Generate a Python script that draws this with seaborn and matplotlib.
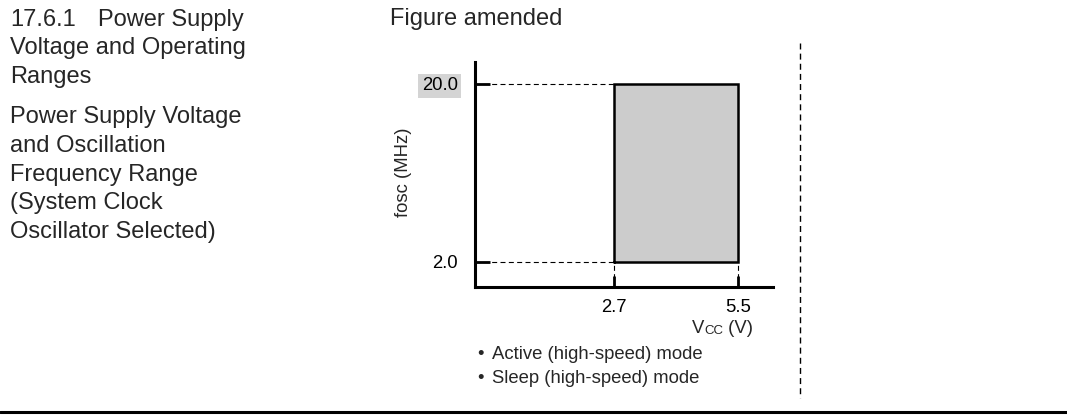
import numpy as np
import pandas as pd
import matplotlib
matplotlib.use('Agg')
import matplotlib.pyplot as plt
from matplotlib.lines import Line2D
import seaborn as sns

# Datos del rango de operación
vcc_range = [2.7, 5.5]          # V
fosc_range = [2.0, 20.0]        # MHz
vcc_labels = ['2.7', '5.5']
fosc_labels = ['2.0', '20.0']
mode_notes = ['Active (high-speed) mode', 'Sleep (high-speed) mode']
heading_lines = ['Voltage and Operating', 'Ranges']
caption_lines = ['Power Supply Voltage', 'and Oscillation', 'Frequency Range',
                 '(System Clock', 'Oscillator Selected)']

sns.set_style('white')
plt.rcParams['font.family'] = ['Liberation Sans', 'DejaVu Sans']
plt.rcParams['lines.scale_dashes'] = False

W, H = 1067, 417
fig = plt.figure(figsize=(W / 100, H / 100), dpi=100)


def fy(py):
    # pixel row (desde arriba) -> coordenada de figura
    return 1 - py / H


# ejes: x 475..773 px, y 62..287 px
ax = fig.add_axes([475 / W, fy(287), (773 - 475) / W, (287 - 62) / H])
ax.set_xlim(-0.438, 6.29)
ax.set_ylim(-0.528, 22.22)

# rectángulo del rango de operación
outline = pd.DataFrame({
    'vcc': [vcc_range[0], vcc_range[1], vcc_range[1], vcc_range[0], vcc_range[0]],
    'fosc': [fosc_range[0], fosc_range[0], fosc_range[1], fosc_range[1], fosc_range[0]],
})
ax.fill_between(vcc_range, fosc_range[0], fosc_range[1], color='#cccccc', lw=0, zorder=1)
sns.lineplot(data=outline, x='vcc', y='fosc', sort=False, estimator=None,
             color='black', lw=1.8, ax=ax, zorder=3)
ax.lines[-1].set_solid_joinstyle('miter')
ax.set_xlabel('')

# líneas de referencia punteadas
dash = (0, (3.6, 2.4))
xmin = ax.get_xlim()[0]
ymin = ax.get_ylim()[0]
ax.hlines(fosc_range, xmin, vcc_range[0], colors='black', lw=0.8, linestyles=[dash], zorder=2)
ax.vlines(vcc_range, ymin, fosc_range[0], colors='black', lw=0.8, linestyles=[dash], zorder=2)

sns.despine(ax=ax)
for s in ['left', 'bottom']:
    ax.spines[s].set_linewidth(2.2)
    ax.spines[s].set_color('black')

ax.set_xticks(vcc_range, vcc_labels)
ax.set_yticks(fosc_range, fosc_labels)
ax.tick_params(axis='y', left=True, direction='in', length=11, width=2.0, pad=12.5,
               labelsize=13.3, colors='black')
ax.tick_params(axis='x', bottom=True, direction='in', length=8, width=2.0, pad=9,
               labelsize=13.3, colors='black')
ax.get_yticklabels()[1].set_bbox(dict(boxstyle='square,pad=0.2', facecolor='#d4d4d4',
                                      edgecolor='none'))

ax.set_ylabel('fosc (MHz)', fontsize=13.3)
ax.yaxis.set_label_coords((404 - 475) / 298, (287 - 172) / 225)
ax.yaxis.label.set_va('center')

# etiqueta Vcc (V) con CC reducido
t_v = ax.text((692 - 475) / 298, (287 - 333) / 225, 'V', transform=ax.transAxes,
              fontsize=13.3, va='baseline', ha='left')
t_cc = ax.annotate('CC', xy=(1, 0), xycoords=t_v, fontsize=9.5, va='bottom', ha='left')
ax.annotate(' (V)', xy=(1, 0), xycoords=t_cc, fontsize=13.3, va='bottom', ha='left')

# notas de modo
for i, note in enumerate(mode_notes):
    py = 359 + i * 24
    fig.text(477 / W, fy(py), '\u2022', fontsize=13.3, va='baseline', ha='left')
    fig.text(492 / W, fy(py), note, fontsize=13.3, va='baseline', ha='left')

# texto de la columna izquierda
fig.text(10 / W, fy(25.7), '17.6.1', fontsize=17, va='baseline', ha='left')
fig.text(98 / W, fy(25.7), 'Power Supply', fontsize=17, va='baseline', ha='left')
for i, line in enumerate(heading_lines):
    fig.text(10 / W, fy(54.4 + i * 28.7), line, fontsize=17, va='baseline', ha='left')
for i, line in enumerate(caption_lines):
    fig.text(10 / W, fy(123.3 + i * 28.6), line, fontsize=17, va='baseline', ha='left')

fig.text(390 / W, fy(25), 'Figure amended', fontsize=17, va='baseline', ha='left')

# separador vertical y regla inferior
fig.add_artist(Line2D([800 / W, 800 / W], [fy(43), fy(398)], color='black', lw=1.0,
                      linestyle=(0, (4.3, 3.0)), transform=fig.transFigure))
fig.add_artist(Line2D([0, 1], [fy(412), fy(412)], color='black', lw=2.2,
                      transform=fig.transFigure))

fig.savefig('out.png', dpi=100, facecolor='white')
plt.close(fig)
